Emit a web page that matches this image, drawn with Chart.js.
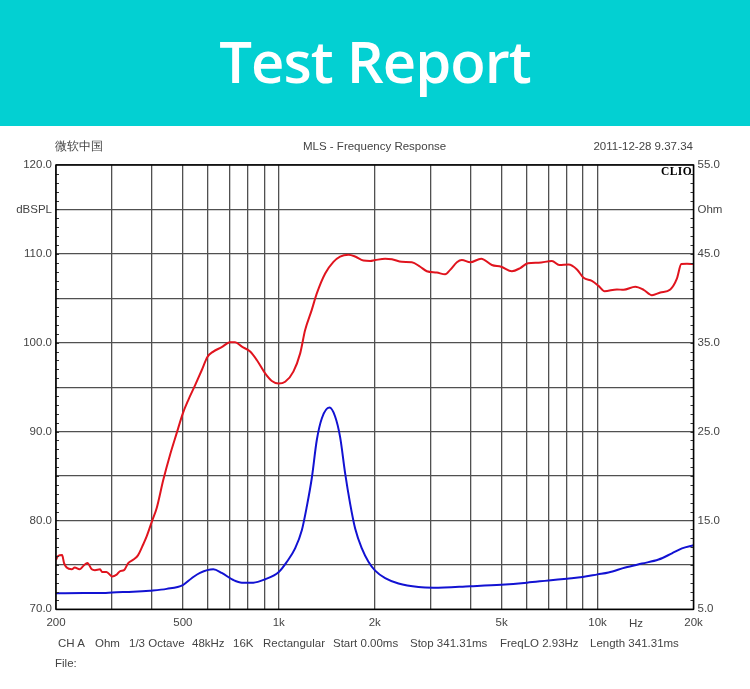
<!DOCTYPE html>
<html>
<head>
<meta charset="utf-8">
<title>Test Report</title>
<script src="https://cdn.jsdelivr.net/npm/chart.js@4"></script>
<style>
  html, body { margin: 0; padding: 0; background: #fff; }
  body { width: 750px; height: 689px; position: relative; overflow: hidden; font-family: "Liberation Sans", Arial, sans-serif; }
  #banner { position: absolute; left: 0; top: 0; width: 750px; height: 126px; background: #03D0D2; color: #fff;
    font: 600 58px/122px "Open Sans", sans-serif; letter-spacing: -1px; text-align: center; }
  #chart { position: absolute; left: 0; top: 126px; }
  .t { position: absolute; font-size: 11.5px; line-height: 14px; color: #444; white-space: nowrap; }
  #clio { font: bold 11.5px/12px "Liberation Serif", serif; color: #000; left: 661px; top: 165px; letter-spacing: 0.4px; }
</style>
</head>
<body>
<div id="banner">Test Report</div>
<canvas id="chart" width="750" height="563"></canvas>
<span class="t" style="left:55px;top:139px;font-size:12px">微软中国</span>
<span class="t" style="left:303px;top:139px">MLS - Frequency Response</span>
<span class="t" style="right:57px;top:139px">2011-12-28 9.37.34</span>
<span class="t" id="clio">CLIO</span>
<span class="t" style="left:629px;top:616px">Hz</span>
<span class="t" style="left:58px;top:636px">CH A</span>
<span class="t" style="left:95px;top:636px">Ohm</span>
<span class="t" style="left:129px;top:636px">1/3 Octave</span>
<span class="t" style="left:192px;top:636px">48kHz</span>
<span class="t" style="left:233px;top:636px">16K</span>
<span class="t" style="left:263px;top:636px">Rectangular</span>
<span class="t" style="left:333px;top:636px">Start 0.00ms</span>
<span class="t" style="left:410px;top:636px">Stop 341.31ms</span>
<span class="t" style="left:500px;top:636px">FreqLO 2.93Hz</span>
<span class="t" style="left:590px;top:636px">Length 341.31ms</span>
<span class="t" style="left:55px;top:656px">File:</span>
<script>
// frequency response (Hz / dBSPL)
const splFreq = [200, 203, 209, 212, 216, 224, 229, 237, 244, 251, 259, 265, 275, 279, 288, 300, 310, 318, 327, 337,
  350, 362, 376, 385, 400, 414, 434, 456, 478, 500, 520, 546, 573, 597, 623, 662, 703, 729, 766, 813,
  853, 906, 951, 998, 1047, 1111, 1167, 1209, 1269, 1316, 1398, 1484, 1557, 1654, 1736, 1843, 1934, 2006, 2156, 2264,
  2433, 2615, 2777, 2913, 3132, 3325, 3449, 3620, 3753, 3986, 4315, 4661, 4985, 5388, 5721, 6048, 6530, 7193, 7584, 8110,
  8617, 9040, 9600, 10070, 10520, 11505, 12065, 13135, 13950, 14815, 15735, 16915, 17750, 18310, 19080, 20000];
const splValues = [75.55, 76.0, 76.1, 75.2, 74.7, 74.5, 74.7, 74.5, 74.9, 75.2, 74.5, 74.4, 74.5, 74.2, 74.2, 73.7, 73.9, 74.3, 74.4, 75.2,
  75.6, 76.1, 77.35, 78.2, 79.9, 81.4, 84.55, 87.4, 89.8, 92.05, 93.55, 95.2, 96.9, 98.4, 99.0, 99.5, 100.05, 100.05, 99.55, 99.0,
  98.05, 96.55, 95.7, 95.4, 95.6, 96.75, 98.8, 101.4, 103.7, 105.55, 107.8, 109.1, 109.7, 109.9, 109.7, 109.25, 109.2, 109.3, 109.45, 109.4,
  109.1, 109.05, 108.55, 108.05, 107.9, 107.7, 108.2, 109.05, 109.3, 109.05, 109.45, 108.75, 108.55, 108.05, 108.4, 108.95, 109.0, 109.2, 108.75, 108.8,
  108.25, 107.3, 106.95, 106.4, 105.8, 106.0, 105.95, 106.3, 105.95, 105.35, 105.65, 106.0, 107.25, 108.85, 108.9, 108.85];

// impedance (Hz / Ohm)
const ohmFreq = [200, 244, 282, 300, 349, 394, 445, 500, 533, 566, 623, 662, 720, 766, 832, 906, 1000, 1060, 1125, 1181,
  1224, 1269, 1316, 1365, 1442, 1502, 1557, 1615, 1674, 1736, 1822, 1911, 2006, 2156, 2374, 2743, 3057, 3986, 4985, 6004,
  7018, 8015, 8975, 10000, 10825, 12220, 13790, 15540, 17120, 18400, 20000];
const ohmValues = [6.8, 6.83, 6.83, 6.9, 6.98, 7.1, 7.3, 7.73, 8.5, 9.1, 9.5, 9.1, 8.3, 8.0, 8.0, 8.38, 9.2, 10.35, 11.85, 13.9,
  16.55, 19.75, 24.05, 26.5, 27.7, 26.7, 24.4, 20.3, 16.9, 14.1, 11.85, 10.35, 9.35, 8.5, 7.9, 7.5, 7.43, 7.6, 7.77, 8.0,
  8.25, 8.45, 8.63, 8.93, 9.15, 9.7, 10.15, 10.6, 11.3, 11.85, 12.2];

const xGridFreqs = [200, 300, 400, 500, 600, 700, 800, 900, 1000, 2000, 3000, 4000, 5000, 6000, 7000, 8000, 9000, 10000, 20000];
const xLabelFreqs = [200, 500, 1000, 2000, 5000, 10000, 20000];
const xLabelTexts = ['200', '500', '1k', '2k', '5k', '10k', '20k'];
const splLabelValues = [120, 115, 110, 100, 90, 80, 70];
const splLabelTexts = ['120.0', 'dBSPL', '110.0', '100.0', '90.0', '80.0', '70.0'];
const ohmLabelValues = [55, 50, 45, 35, 25, 15, 5];
const ohmLabelTexts = ['55.0', 'Ohm', '45.0', '35.0', '25.0', '15.0', '5.0'];

const GRID = '#505050';
const TEXT = '#444';

function points(xs, ys) {
  return xs.map((x, i) => ({ x, y: ys[i] }));
}

function labelFor(values, texts) {
  return (v) => {
    const i = values.indexOf(v);
    return i < 0 ? '' : texts[i];
  };
}

// 1 dB ticks pointing into the plot, plus the heavy frame
const frame = {
  id: 'frame',
  afterDatasetsDraw(chart) {
    const { ctx, chartArea: a, scales } = chart;
    ctx.save();
    ctx.strokeStyle = '#333';
    ctx.lineWidth = 1;
    ctx.beginPath();
    for (let v = 71; v < 120; v++) {
      const y = Math.round(scales.y.getPixelForValue(v)) + 0.5;
      ctx.moveTo(a.left, y);
      ctx.lineTo(a.left + 3, y);
      ctx.moveTo(a.right - 3, y);
      ctx.lineTo(a.right, y);
    }
    ctx.stroke();
    ctx.strokeStyle = '#000';
    ctx.lineWidth = 1.5;
    ctx.strokeRect(a.left, a.top, a.right - a.left, a.bottom - a.top);
    ctx.restore();
  },
};

new Chart(document.getElementById('chart'), {
  type: 'line',
  data: {
    datasets: [
      { label: 'dBSPL', data: points(splFreq, splValues), yAxisID: 'y', borderColor: '#E0141E', borderWidth: 2, cubicInterpolationMode: 'monotone', pointRadius: 0 },
      { label: 'Ohm', data: points(ohmFreq, ohmValues), yAxisID: 'y1', borderColor: '#1212D2', borderWidth: 2, cubicInterpolationMode: 'monotone', pointRadius: 0 },
    ],
  },
  options: {
    responsive: false,
    animation: false,
    layout: { padding: { top: 39 } },
    plugins: { legend: { display: false }, title: { display: false }, tooltip: { enabled: false } },
    scales: {
      x: {
        type: 'logarithmic',
        min: 200,
        max: 20000,
        afterBuildTicks: (s) => { s.ticks = xGridFreqs.map((value) => ({ value })); },
        afterFit: (s) => { s.height = 79.7; },
        grid: { color: GRID, lineWidth: 1.3, drawTicks: false },
        border: { display: false },
        ticks: {
          color: TEXT,
          font: { family: '"Liberation Sans"', size: 11.5 },
          padding: 7,
          autoSkip: false,
          maxRotation: 0,
          callback: labelFor(xLabelFreqs, xLabelTexts),
        },
      },
      y: {
        position: 'left',
        min: 70,
        max: 120,
        afterFit: (s) => { s.width = 56; },
        grid: { color: GRID, lineWidth: 1.3, drawTicks: false },
        border: { display: false },
        ticks: {
          stepSize: 5,
          color: TEXT,
          font: { family: '"Liberation Sans"', size: 11.5 },
          padding: 4,
          autoSkip: false,
          callback: labelFor(splLabelValues, splLabelTexts),
        },
      },
      y1: {
        position: 'right',
        min: 5,
        max: 55,
        afterFit: (s) => { s.width = 56.5; },
        grid: { display: false, drawTicks: false },
        border: { display: false },
        ticks: {
          stepSize: 5,
          color: TEXT,
          font: { family: '"Liberation Sans"', size: 11.5 },
          padding: 4,
          autoSkip: false,
          callback: labelFor(ohmLabelValues, ohmLabelTexts),
        },
      },
    },
  },
  plugins: [frame],
});
</script>
</body>
</html>
